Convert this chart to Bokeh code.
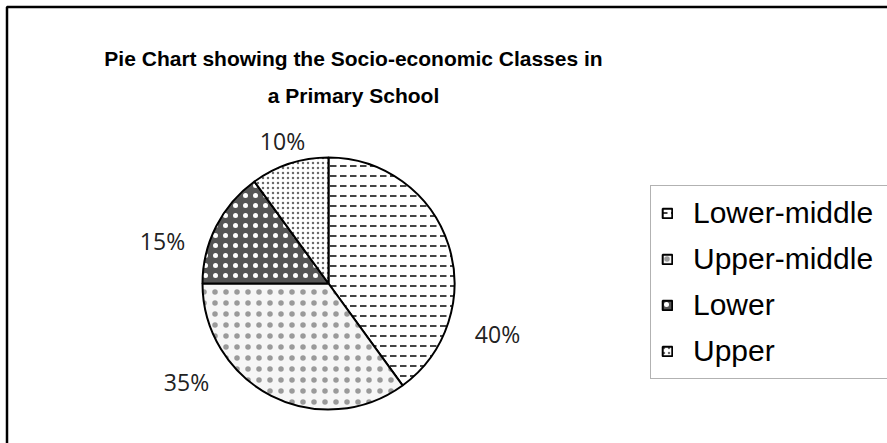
import numpy as np
from bokeh.plotting import figure
from bokeh.models import Range1d, Label, Legend, LegendItem
from bokeh.embed import file_html
from bokeh.resources import INLINE

# ---- data ----
categories = ["Lower-middle", "Upper-middle", "Lower", "Upper"]
percent = [40, 35, 15, 10]
pct_labels = ["40%", "35%", "15%", "10%"]
title_lines = ["Pie Chart showing the Socio-economic Classes in", "a Primary School"]

# ---- styles (per slice) ----
fill_colors = ["#ffffff", "#f6f6f6", "#555555", "#ffffff"]
hatch_patterns = ["horizontal_dash", "dot", "dot", "dot"]
hatch_colors = ["#444444", "#9a9a9a", "#ffffff", "#6a6a6a"]
hatch_scales = [10, 11, 10, 5]
hatch_weights = [2.0, 1.3, 1.5, 1.0]
# label placement (screen px) for each percentage label
label_pos = [(497, 333), (186, 381), (162, 240), (282, 140)]

W, H = 887, 443
CX, CY, R = 328, 283, 126

def sy(y):
    return H - y

p = figure(width=W, height=H, x_range=Range1d(0, W), y_range=Range1d(0, H),
           x_axis_type=None, y_axis_type=None, toolbar_location=None,
           output_backend="svg", min_border=0)
p.outline_line_color = None
p.grid.visible = False
p.background_fill_color = "white"
p.border_fill_color = "white"

# chart frame
p.line(x=[6.5, 6.5, W + 10], y=[-10, sy(6.5), sy(6.5)], line_color="black", line_width=2.5)

frac = np.array(percent, dtype=float) / sum(percent)
cum = np.concatenate([[0], np.cumsum(frac)])
items = []
for i, cat in enumerate(categories):
    start = np.pi / 2 - 2 * np.pi * cum[i + 1]
    end = np.pi / 2 - 2 * np.pi * cum[i]
    r = p.wedge(x=CX, y=sy(CY), radius=R, start_angle=start, end_angle=end,
                fill_color=fill_colors[i], line_color="black", line_width=2,
                hatch_pattern=hatch_patterns[i], hatch_color=hatch_colors[i],
                hatch_scale=hatch_scales[i], hatch_weight=hatch_weights[i])
    items.append(LegendItem(label=cat, renderers=[r]))

for txt, (lx, ly) in zip(pct_labels, label_pos):
    p.add_layout(Label(x=lx, y=sy(ly), text=txt, text_align="center", text_baseline="middle",
                       text_font="Open Sans", text_font_size="23px", text_color="#222222"))

for k, line in enumerate(title_lines):
    p.add_layout(Label(x=353, y=sy(58 + 37 * k), text=line, text_align="center",
                       text_baseline="middle", text_font="Liberation Sans",
                       text_font_size="21px", text_font_style="bold", text_color="black"))

legend = Legend(items=items, location=(650, sy(379)), orientation="vertical",
                label_text_font="Liberation Sans", label_text_font_size="30px",
                label_text_color="black", glyph_width=12, glyph_height=12,
                label_height=34, label_width=205, spacing=12, padding=10, margin=0,
                label_standoff=20,
                border_line_color="#666666", border_line_width=1.5,
                background_fill_color="white", background_fill_alpha=1.0)
p.add_layout(legend, "center")

open("out.html", "w").write(file_html(p, INLINE))
